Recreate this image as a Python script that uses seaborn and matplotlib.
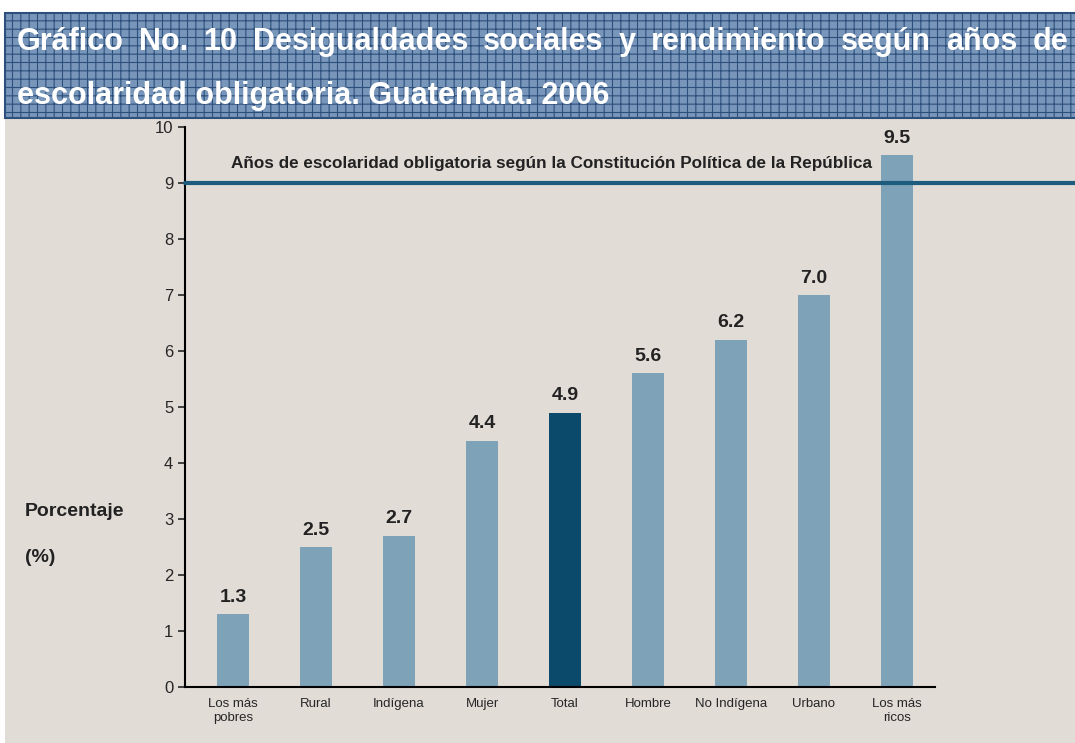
import matplotlib
matplotlib.use("Agg")
import matplotlib.pyplot as plt
import seaborn as sns
import pandas as pd
from matplotlib.patches import Rectangle

# Datos del grafico
categorias = ["Los más\npobres", "Rural", "Indígena", "Mujer", "Total",
              "Hombre", "No Indígena", "Urbano", "Los más\nricos"]
anios = [1.3, 2.5, 2.7, 4.4, 4.9, 5.6, 6.2, 7.0, 9.5]
obligatoria = 9
y_ticks = [0, 1, 2, 3, 4, 5, 6, 7, 8, 9, 10]
titulo_1 = "Gráfico No. 10 Desigualdades sociales y rendimiento según años de"
titulo_2 = "escolaridad obligatoria. Guatemala. 2006"

df = pd.DataFrame({"grupo": categorias, "anios": anios})
colores = {c: ("#0c4a6c" if c == "Total" else "#7ea2b8") for c in categorias}

sns.set_style("white")
plt.rcParams["font.family"] = ["Liberation Sans", "DejaVu Sans"]
plt.rcParams["hatch.color"] = "#5a7aa2"
plt.rcParams["hatch.linewidth"] = 0.8

fig = plt.figure(figsize=(10.75, 7.43), dpi=100)
fig.patch.set_facecolor("white")

# fondo gris del grafico
fig.add_artist(Rectangle((5 / 1075, 0), 1, 1 - 108 / 743, transform=fig.transFigure,
                         facecolor="#e2dcd7", edgecolor="none", zorder=0))
# banda del titulo
fig.add_artist(Rectangle((5 / 1075, 1 - 118 / 743), 1, 105 / 743, transform=fig.transFigure,
                         facecolor="#7896ba", edgecolor="#2c4f7c", hatch="++",
                         linewidth=1.5, zorder=1))

# primera linea justificada (palabras repartidas de 17 px a 1068 px)
renderer = fig.canvas.get_renderer()
palabras = titulo_1.split()
textos = [fig.text(0, 1 - 42 / 743, p, color="white", fontsize=22, fontweight="bold",
                   va="center", ha="left", zorder=3) for p in palabras]
anchos = [t.get_window_extent(renderer).width for t in textos]
hueco = (1068 - 17 - sum(anchos)) / (len(palabras) - 1)
x = 17
for t, w in zip(textos, anchos):
    t.set_x(x / 1075)
    x += w + hueco
fig.text(17 / 1075, 1 - 96 / 743, titulo_2,
         color="white", fontsize=22, fontweight="bold", va="center", ha="left", zorder=3)

ax = fig.add_axes([185 / 1075, 1 - 687 / 743, 750 / 1075, 560 / 743])
ax.set_facecolor("none")
sns.barplot(data=df, x="grupo", y="anios", hue="grupo", palette=colores,
            width=0.38, saturation=1, linewidth=0, legend=False, ax=ax, zorder=2)

for i, v in enumerate(anios):
    ax.text(i, v + 0.15, f"{v:.1f}", ha="center", va="bottom",
            fontsize=14, fontweight="bold", color="#222222")

# linea de escolaridad obligatoria
ax.axhline(obligatoria, xmin=0, xmax=1.19, color="#1d5c7c", linewidth=3,
           clip_on=False, zorder=4)
ax.text(-0.02, obligatoria + 0.35,
        "Años de escolaridad obligatoria según la Constitución Política de la República",
        fontsize=12.3, fontweight="bold", color="#222222", ha="left", va="center")

ax.set_ylim(0, 10)
ax.set_xlim(-0.58, 8.46)
ax.set_yticks(y_ticks)
ax.tick_params(axis="y", length=5, width=1.2, labelsize=12, left=True, direction="out")
ax.tick_params(axis="x", length=0, labelsize=9.5, pad=8)
ax.set_xlabel("")
ax.set_ylabel("")
for s in ["top", "right"]:
    ax.spines[s].set_visible(False)
ax.spines["left"].set_linewidth(1.5)
ax.spines["bottom"].set_linewidth(1.5)
ax.spines["left"].set_color("black")
ax.spines["bottom"].set_color("black")

fig.text(25 / 1075, 1 - 512 / 743, "Porcentaje", fontsize=14, fontweight="bold",
         color="#222222", va="center")
fig.text(25 / 1075, 1 - 558 / 743, "(%)", fontsize=14, fontweight="bold",
         color="#222222", va="center")

fig.savefig("out.png", dpi=100)
